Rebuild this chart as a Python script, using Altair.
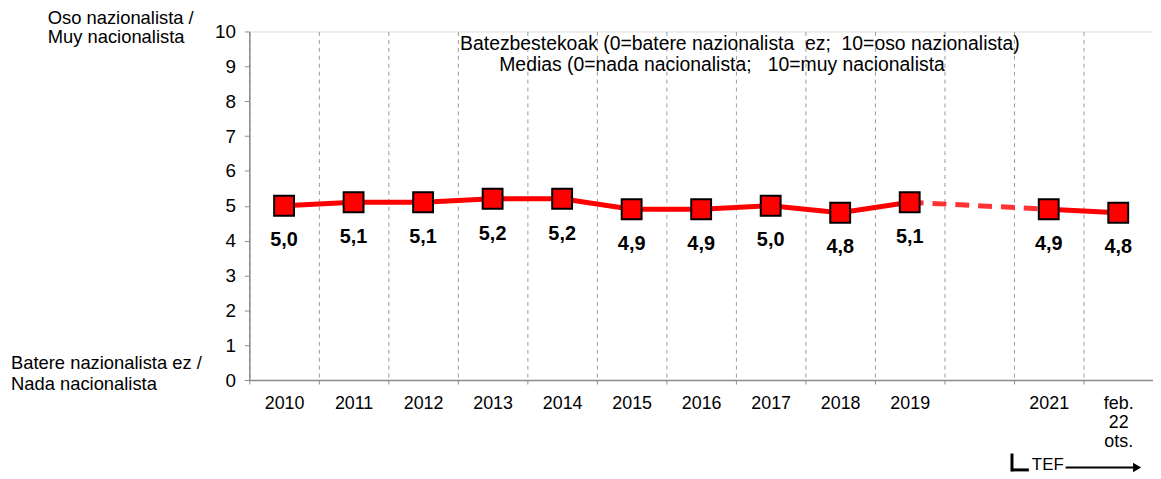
import altair as alt
import pandas as pd

categories = ["2010", "2011", "2012", "2013", "2014", "2015", "2016", "2017",
              "2018", "2019", "2020", "2021", "feb. 22 ots."]
values = [5.0, 5.1, 5.1, 5.2, 5.2, 4.9, 4.9, 5.0, 4.8, 5.1, None, 4.9, 4.8]
segments = ["a"] * 10 + [None] + ["b", "b"]
dashed_cats = ["2019", "2021"]
dashed_vals = [5.1, 4.9]
y_ticks = [0, 1, 2, 3, 4, 5, 6, 7, 8, 9, 10]

NB = "\u00a0"
title_lines = ["Batezbestekoak (0=batere nazionalista " + NB + "ez; " + NB + "10=oso nazionalista)",
               "Medias (0=nada nacionalista; " + NB + NB + "10=muy nacionalista"]
top_lines = ["Oso nazionalista /", "Muy nacionalista"]
bottom_lines = ["Batere nazionalista ez /", "Nada nacionalista"]

FONT = "Liberation Sans"
RED = "#ff0000"

df = pd.DataFrame({"cat": categories, "value": values, "seg": segments})
df = df.dropna(subset=["value"])
df_dash = pd.DataFrame({"cat": dashed_cats, "value": dashed_vals})

xenc = alt.X(
    "cat:N",
    sort=categories,
    scale=alt.Scale(type="band", domain=categories, paddingInner=0, paddingOuter=0),
    axis=alt.Axis(
        title=None,
        tickBand="extent",
        grid=True,
        gridColor="#9a9a9a",
        gridDash=[4, 4],
        gridWidth=1,
        domainColor="#8c8c8c",
        domainWidth=1.5,
        tickColor="#8c8c8c",
        tickSize=4,
        labelFont=FONT,
        labelFontSize=18,
        labelColor="#000000",
        labelPadding=11,
        labelLineHeight=19,
        labelAngle=0,
        labelBaseline="top",
        labelOverlap=False,
        labelExpr="(!datum.value || datum.value == '2020') ? '' : split(datum.value, ' ')",
    ),
)
yenc = alt.Y(
    "value:Q",
    scale=alt.Scale(domain=[0, 10]),
    axis=alt.Axis(
        title=None,
        values=y_ticks,
        grid=False,
        domainColor="#8c8c8c",
        domainWidth=1.5,
        tickColor="#8c8c8c",
        tickSize=5,
        labelFont=FONT,
        labelFontSize=19,
        labelColor="#000000",
        labelPadding=9,
        labelOverlap=False,
    ),
)

line_solid = alt.Chart(df).mark_line(color=RED, strokeWidth=5).encode(
    x=xenc, y=yenc, detail="seg:N"
)
line_dash = alt.Chart(df_dash).mark_line(
    color=RED, strokeWidth=5, strokeDash=[14, 9], opacity=0.8
).encode(x=xenc, y=yenc)
points = alt.Chart(df).mark_point(
    shape="square", size=400, filled=True, fill=RED, stroke="#000000",
    strokeWidth=2, opacity=1
).encode(x=xenc, y=yenc)
labels = alt.Chart(df).transform_calculate(
    lab="replace(format(datum.value, '.1f'), '.', ',')"
).mark_text(
    font=FONT, fontSize=20, fontWeight="bold", color="#000000", dy=35,
    baseline="middle", align="center"
).encode(x=xenc, y=yenc, text="lab:N")

one = pd.DataFrame({"k": [0]})

def ann(lines, x, y, align, size=17, lh=21):
    return alt.Chart(one).mark_text(
        text=lines, font=FONT, fontSize=size, color="#000000", align=align,
        baseline="middle", lineHeight=lh
    ).encode(x=alt.value(x), y=alt.value(y))

title1 = ann([title_lines[0]], 494, 13, "center", size=19.5)
title2 = ann([title_lines[1]], 476, 34, "center", size=19.5)
top_t = ann(top_lines, -203, -14, "left", size=18.5, lh=20)
bot_t = ann(bottom_lines, -240, 334, "left", size=18.5)
tef = alt.Chart(one).mark_text(
    text="TEF", font=FONT, fontSize=17, color="#000000", align="left",
    baseline="alphabetic"
).encode(x=alt.value(788), y=alt.value(442))

l_vert = alt.Chart(one).mark_rule(color="#000000", strokeWidth=3).encode(
    x=alt.value(768), y=alt.value(425), y2=alt.value(443))
l_horz = alt.Chart(one).mark_rule(color="#000000", strokeWidth=3).encode(
    x=alt.value(767), x2=alt.value(785), y=alt.value(441.5))
arrow_line = alt.Chart(one).mark_rule(color="#000000", strokeWidth=2).encode(
    x=alt.value(822), x2=alt.value(892), y=alt.value(439))
arrow_head = alt.Chart(one).mark_point(
    shape="triangle-right", size=90, filled=True, color="#000000", opacity=1
).encode(x=alt.value(894), y=alt.value(439))

chart = alt.layer(
    line_solid, line_dash, points, labels, title1, title2, top_t, bot_t,
    tef, l_vert, l_horz, arrow_line, arrow_head
).properties(
    width=910,
    height=351,
    autosize=alt.AutoSizeParams(type="none"),
    padding={"left": 243, "top": 22, "right": 0, "bottom": 98},
).configure_view(stroke=None).configure(background="#ffffff")

chart.save("out.html", embed_options={"renderer": "svg", "actions": False})
